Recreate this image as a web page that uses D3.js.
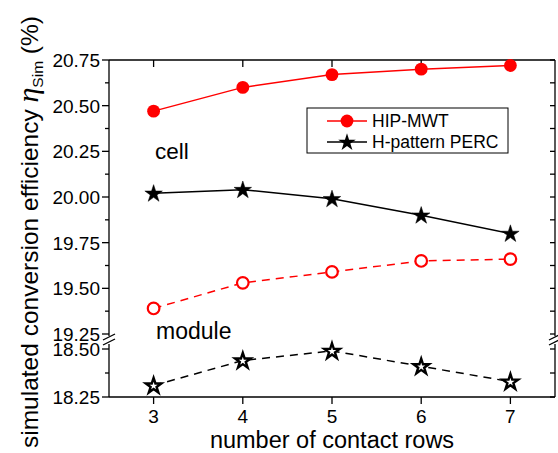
<!DOCTYPE html>
<html>
<head>
<meta charset="UTF-8">
<title>Simulated conversion efficiency</title>
<script src="https://d3js.org/d3.v7.min.js"></script>
<style>
  body { margin: 0; background: #fff; }
  text { font-family: "Liberation Sans", Arial, sans-serif; fill: #000; }
</style>
</head>
<body>
<svg id="chart"></svg>
<script>
// data
const rows = [3, 4, 5, 6, 7];
const hipCell = [20.47, 20.60, 20.67, 20.70, 20.72];
const percCell = [20.02, 20.04, 19.99, 19.90, 19.80];
const hipModule = [19.39, 19.53, 19.59, 19.65, 19.66];
const percModule = [18.31, 18.44, 18.49, 18.41, 18.33];
const upperTicks = [19.25, 19.5, 19.75, 20, 20.25, 20.5, 20.75];
const lowerTicks = [18.25, 18.5];
const upperMinor = [19.375, 19.625, 19.875, 20.125, 20.375, 20.625];
const lowerMinor = [18.375];

const width = 558, height = 453;
const plotL = 109, plotR = 555, plotT = 60, plotB = 397;
const breakTop = 336, breakBottom = 344;

const svg = d3.select("#chart").attr("width", width).attr("height", height);

const x = d3.scaleLinear().domain([2.5, 7.5]).range([plotL, plotR]);
const yUp = d3.scaleLinear().domain([19.25, 20.75]).range([334, plotT]);
const yLow = d3.scaleLinear().domain([18.25, 18.5]).range([plotB, 349]);

// frame: top and bottom
svg.append("line").attr("x1", plotL).attr("x2", plotR).attr("y1", plotT).attr("y2", plotT).attr("stroke", "#000").attr("stroke-width", 1.3);
svg.append("line").attr("x1", plotL).attr("x2", plotR).attr("y1", plotB).attr("y2", plotB).attr("stroke", "#000").attr("stroke-width", 1.3);

// vertical axes, split at the break
[plotL, plotR].forEach(ax => {
  svg.append("line").attr("x1", ax).attr("x2", ax).attr("y1", plotT).attr("y2", breakTop).attr("stroke", "#000").attr("stroke-width", 1.3);
  svg.append("line").attr("x1", ax).attr("x2", ax).attr("y1", breakBottom).attr("y2", plotB).attr("stroke", "#000").attr("stroke-width", 1.3);
  [337, 342].forEach(by => {
    svg.append("line").attr("x1", ax - 6).attr("x2", ax + 6).attr("y1", by + 3).attr("y2", by - 3)
      .attr("stroke", "#000").attr("stroke-width", 1.3);
  });
});

// left ticks (outward), right ticks (inward) and labels
function yTicks(vals, scale, len, labels) {
  vals.forEach(v => {
    svg.append("line").attr("x1", plotL - len).attr("x2", plotL).attr("y1", scale(v)).attr("y2", scale(v)).attr("stroke", "#000").attr("stroke-width", 1.3);
    svg.append("line").attr("x1", plotR - 5).attr("x2", plotR).attr("y1", scale(v)).attr("y2", scale(v)).attr("stroke", "#000").attr("stroke-width", 1.3);
    if (labels) {
      svg.append("text").attr("x", plotL - 9).attr("y", scale(v)).attr("dy", "0.36em")
        .attr("text-anchor", "end").attr("font-size", 19).text(d3.format(".2f")(v));
    }
  });
}
yTicks(upperTicks, yUp, 7, true);
yTicks(upperMinor, yUp, 4, false);
yTicks(lowerTicks, yLow, 7, true);
yTicks(lowerMinor, yLow, 4, false);

// x ticks
rows.forEach(r => {
  svg.append("line").attr("x1", x(r)).attr("x2", x(r)).attr("y1", plotB).attr("y2", plotB + 7).attr("stroke", "#000").attr("stroke-width", 1.3);
  svg.append("line").attr("x1", x(r)).attr("x2", x(r)).attr("y1", plotT).attr("y2", plotT + 7).attr("stroke", "#000").attr("stroke-width", 1.3);
  svg.append("text").attr("x", x(r)).attr("y", 423).attr("text-anchor", "middle").attr("font-size", 19).text(r);
});

// titles
svg.append("text").attr("x", (plotL + plotR) / 2).attr("y", 448).attr("text-anchor", "middle")
  .attr("font-size", 23.5).text("number of contact rows");

const yt = svg.append("text").attr("transform", "translate(38, 448) rotate(-90)")
  .attr("text-anchor", "start").attr("font-size", 24.5);
yt.append("tspan").text("simulated conversion efficiency ");
yt.append("tspan").attr("font-family", "Liberation Serif").attr("font-style", "italic").attr("font-size", 30).text("η");
yt.append("tspan").attr("font-size", 15.5).attr("dy", 5).text("Sim");
yt.append("tspan").attr("dy", -5).text(" (%)");

svg.append("text").attr("x", 155).attr("y", 159).attr("font-size", 22.5).text("cell");
svg.append("text").attr("x", 156).attr("y", 339).attr("font-size", 23).text("module");

// series
const line = scale => d3.line().x((d, i) => x(rows[i])).y(d => scale(d));
const star = d3.symbol().type(d3.symbolStar);

function series(vals, scale, color, dashed, marker, filled) {
  svg.append("path").datum(vals).attr("d", line(scale)).attr("fill", "none")
    .attr("stroke", color).attr("stroke-width", 1.5)
    .attr("stroke-dasharray", dashed ? "8,6" : null);
  vals.forEach((v, i) => {
    if (marker === "circle") {
      svg.append("circle").attr("cx", x(rows[i])).attr("cy", scale(v))
        .attr("r", filled ? 6.4 : 5.8)
        .attr("fill", filled ? color : "#fff").attr("stroke", color).attr("stroke-width", filled ? 0 : 2.2);
    } else {
      svg.append("path").attr("d", star.size(filled ? 95 : 75)())
        .attr("transform", `translate(${x(rows[i])},${scale(v) + 0.5})`)
        .attr("fill", filled ? color : "#fff").attr("stroke", color).attr("stroke-width", filled ? 0.5 : 2.4);
    }
  });
}
series(hipCell, yUp, "#ff0000", false, "circle", true);
series(percCell, yUp, "#000", false, "star", true);
series(hipModule, yUp, "#ff0000", true, "circle", false);
series(percModule, yLow, "#000", true, "star", false);

// legend
const lg = svg.append("g");
lg.append("rect").attr("x", 307).attr("y", 108).attr("width", 201).attr("height", 45)
  .attr("fill", "#fff").attr("stroke", "#000").attr("stroke-width", 1);
const legendItems = [
  { label: "HIP-MWT", color: "#ff0000", marker: "circle", y: 121 },
  { label: "H-pattern PERC", color: "#000", marker: "star", y: 142 }
];
legendItems.forEach(d => {
  lg.append("line").attr("x1", 327).attr("x2", 367).attr("y1", d.y).attr("y2", d.y).attr("stroke", d.color).attr("stroke-width", 1.5);
  if (d.marker === "circle") {
    lg.append("circle").attr("cx", 347).attr("cy", d.y).attr("r", 6.4).attr("fill", d.color);
  } else {
    lg.append("path").attr("d", star.size(95)()).attr("transform", `translate(347,${d.y + 0.5})`).attr("fill", d.color);
  }
  lg.append("text").attr("x", 372).attr("y", d.y).attr("dy", "0.36em").attr("font-size", 17.5).text(d.label);
});
</script>
</body>
</html>
